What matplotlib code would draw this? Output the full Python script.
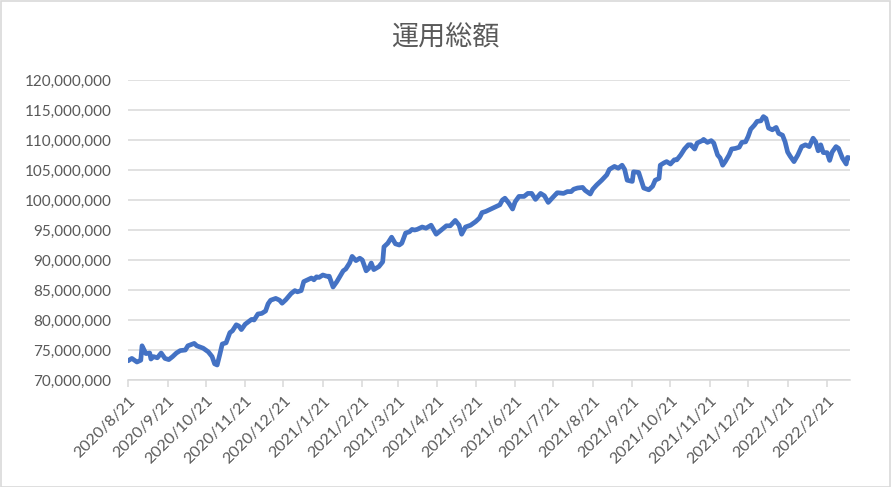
import matplotlib
matplotlib.use('Agg')
import matplotlib.pyplot as plt
import matplotlib.ticker as mticker
import pandas as pd

# 日付と運用総額(百万円単位で読み取り)
dates = [
    '2020-08-21', '2020-08-24', '2020-08-28', '2020-08-31', '2020-09-01', '2020-09-04', '2020-09-07',
    '2020-09-08', '2020-09-10', '2020-09-13', '2020-09-16', '2020-09-19', '2020-09-22', '2020-09-25',
    '2020-09-28', '2020-10-01', '2020-10-05', '2020-10-07', '2020-10-12', '2020-10-14', '2020-10-19',
    '2020-10-23', '2020-10-26', '2020-10-28', '2020-10-30', '2020-11-01', '2020-11-03', '2020-11-06',
    '2020-11-09', '2020-11-11', '2020-11-14', '2020-11-16', '2020-11-18', '2020-11-21', '2020-11-26',
    '2020-11-28', '2020-12-01', '2020-12-04', '2020-12-07', '2020-12-09', '2020-12-11', '2020-12-15',
    '2020-12-18', '2020-12-20', '2020-12-23', '2020-12-27', '2020-12-30', '2021-01-01', '2021-01-04',
    '2021-01-06', '2021-01-09', '2021-01-12', '2021-01-14', '2021-01-16', '2021-01-18', '2021-01-21',
    '2021-01-24', '2021-01-26', '2021-01-29', '2021-02-01', '2021-02-04', '2021-02-06', '2021-02-08',
    '2021-02-11', '2021-02-13', '2021-02-16', '2021-02-19', '2021-02-21', '2021-02-24', '2021-02-26',
    '2021-02-28', '2021-03-02', '2021-03-06', '2021-03-09', '2021-03-10', '2021-03-13', '2021-03-16',
    '2021-03-19', '2021-03-22', '2021-03-24', '2021-03-27', '2021-03-30', '2021-04-01', '2021-04-03',
    '2021-04-05', '2021-04-09', '2021-04-12', '2021-04-16', '2021-04-20', '2021-04-24', '2021-04-28',
    '2021-05-01', '2021-05-05', '2021-05-08', '2021-05-10', '2021-05-13', '2021-05-17', '2021-05-21',
    '2021-05-24', '2021-05-26', '2021-05-29', '2021-06-02', '2021-06-06', '2021-06-09', '2021-06-11',
    '2021-06-13', '2021-06-16', '2021-06-19', '2021-06-21', '2021-06-24', '2021-06-28', '2021-07-01',
    '2021-07-04', '2021-07-07', '2021-07-11', '2021-07-14', '2021-07-17', '2021-07-20', '2021-07-24',
    '2021-07-25', '2021-07-29', '2021-08-01', '2021-08-04', '2021-08-06', '2021-08-09', '2021-08-13',
    '2021-08-15', '2021-08-19', '2021-08-21', '2021-08-24', '2021-08-28', '2021-09-01', '2021-09-03',
    '2021-09-07', '2021-09-10', '2021-09-13', '2021-09-15', '2021-09-17', '2021-09-21', '2021-09-22',
    '2021-09-26', '2021-09-28', '2021-09-30', '2021-10-04', '2021-10-07', '2021-10-09', '2021-10-12',
    '2021-10-13', '2021-10-16', '2021-10-18', '2021-10-21', '2021-10-24', '2021-10-26', '2021-10-29',
    '2021-11-01', '2021-11-04', '2021-11-06', '2021-11-09', '2021-11-11', '2021-11-15', '2021-11-16',
    '2021-11-19', '2021-11-22', '2021-11-24', '2021-11-27', '2021-11-29', '2021-12-01', '2021-12-03',
    '2021-12-06', '2021-12-08', '2021-12-11', '2021-12-14', '2021-12-16', '2021-12-19', '2021-12-21',
    '2021-12-23', '2021-12-26', '2021-12-28', '2021-12-31', '2022-01-02', '2022-01-04', '2022-01-06',
    '2022-01-09', '2022-01-12', '2022-01-14', '2022-01-17', '2022-01-19', '2022-01-21', '2022-01-23',
    '2022-01-26', '2022-01-29', '2022-02-01', '2022-02-04', '2022-02-07', '2022-02-10', '2022-02-12',
    '2022-02-14', '2022-02-16', '2022-02-18', '2022-02-21', '2022-02-23', '2022-02-25', '2022-02-28',
    '2022-03-02', '2022-03-05', '2022-03-08', '2022-03-09', '2022-03-11',
]
values_m = [
    73.2, 73.6, 73.0, 73.3, 75.7, 74.4, 74.5,
    73.5, 73.9, 73.7, 74.5, 73.6, 73.4, 73.9,
    74.5, 74.9, 75.0, 75.7, 76.1, 75.7, 75.3,
    74.7, 73.9, 72.7, 72.5, 74.2, 76.0, 76.2,
    77.9, 78.2, 79.2, 79.0, 78.4, 79.3, 80.1,
    80.0, 81.0, 81.1, 81.5, 82.7, 83.3, 83.6,
    83.3, 82.8, 83.4, 84.4, 84.9, 84.7, 84.9,
    86.4, 86.7, 87.0, 86.7, 87.2, 87.1, 87.5,
    87.3, 87.3, 85.5, 86.4, 87.5, 88.2, 88.5,
    89.5, 90.6, 89.9, 90.3, 90.0, 88.2, 88.6,
    89.5, 88.4, 88.9, 89.7, 92.2, 92.8, 93.8,
    92.7, 92.5, 92.8, 94.5, 94.7, 95.1, 95.0,
    95.1, 95.5, 95.3, 95.8, 94.3, 95.0, 95.7,
    95.7, 96.6, 95.8, 94.3, 95.5, 95.8, 96.4,
    97.0, 97.9, 98.1, 98.5, 98.9, 99.2, 100.0,
    100.3, 99.5, 98.5, 99.7, 100.6, 100.6, 101.1,
    101.1, 100.1, 101.1, 100.7, 99.6, 100.3, 101.2,
    101.2, 101.1, 101.4, 101.4, 101.8, 102.0, 102.1,
    101.6, 101.0, 101.8, 102.5, 103.3, 104.2, 105.1,
    105.6, 105.3, 105.8, 105.1, 103.3, 103.1, 104.7,
    104.6, 103.3, 102.0, 101.7, 102.3, 103.3, 103.6,
    105.8, 106.2, 106.4, 106.0, 106.7, 106.7, 107.5,
    108.5, 109.2, 109.2, 108.5, 109.5, 109.9, 110.1,
    109.6, 109.9, 109.5, 107.5, 107.0, 105.8, 106.4,
    107.5, 108.5, 108.6, 108.8, 109.6, 109.7, 110.6,
    111.8, 112.5, 113.1, 113.2, 113.9, 113.6, 112.0,
    111.7, 112.1, 111.1, 110.8, 109.7, 108.0, 107.3,
    106.4, 107.5, 108.9, 109.2, 108.9, 110.3, 109.7,
    108.2, 109.2, 107.9, 107.9, 106.6, 108.0, 108.9,
    108.6, 107.0, 106.0, 107.1, 107.0,
]

tick_dates = ['2020-08-21', '2020-09-21', '2020-10-21', '2020-11-21', '2020-12-21',
              '2021-01-21', '2021-02-21', '2021-03-21', '2021-04-21', '2021-05-21',
              '2021-06-21', '2021-07-21', '2021-08-21', '2021-09-21', '2021-10-21',
              '2021-11-21', '2021-12-21', '2022-01-21', '2022-02-21']
tick_labels = ['2020/8/21', '2020/9/21', '2020/10/21', '2020/11/21', '2020/12/21',
               '2021/1/21', '2021/2/21', '2021/3/21', '2021/4/21', '2021/5/21',
               '2021/6/21', '2021/7/21', '2021/8/21', '2021/9/21', '2021/10/21',
               '2021/11/21', '2021/12/21', '2022/1/21', '2022/2/21']

x = pd.to_datetime(dates)
y = [v * 1_000_000 for v in values_m]

plt.rcParams['font.family'] = ['Lato', 'Noto Sans CJK JP', 'DejaVu Sans']

fig = plt.figure(figsize=(8.91, 4.87), dpi=100)
ax = fig.add_axes([0.1437, 0.2197, 0.954 - 0.1437, 0.8357 - 0.2197])

ax.plot(x, y, color='#4472C4', linewidth=3.4, solid_joinstyle='round', solid_capstyle='round')

ax.set_xlim(x[0], x[-1])
ax.set_ylim(70_000_000, 120_000_000)
ax.set_yticks(range(70_000_000, 120_000_001, 5_000_000))
ax.yaxis.set_major_formatter(mticker.FuncFormatter(lambda v, p: f'{int(v):,}'))
ax.set_xticks(pd.to_datetime(tick_dates))
ax.set_xticklabels(tick_labels, rotation=45, ha='right', rotation_mode='anchor')

ax.grid(axis='y', color='#D9D9D9', linewidth=1.1)
ax.set_axisbelow(True)
for s in ['left', 'right', 'top']:
    ax.spines[s].set_visible(False)
ax.spines['bottom'].set_color('#D9D9D9')
ax.spines['bottom'].set_linewidth(1.1)
ax.tick_params(axis='y', length=0, pad=12, labelsize=11, labelcolor='#595959')
ax.tick_params(axis='x', length=5, width=1.1, color='#D9D9D9', pad=5, labelsize=11.5, labelcolor='#595959')

fig.text(0.5, 1 - 37 / 487, '運用総額', ha='center', va='center', fontsize=19.5,
         color='#595959', family=['Noto Sans CJK JP', 'DejaVu Sans'])

# 外枠
fig.patches.append(plt.Rectangle((0.001, 0.001), 0.998, 0.997, transform=fig.transFigure,
                                 fill=False, edgecolor='#D9D9D9', linewidth=1.2))

fig.savefig('out.png', dpi=100)
